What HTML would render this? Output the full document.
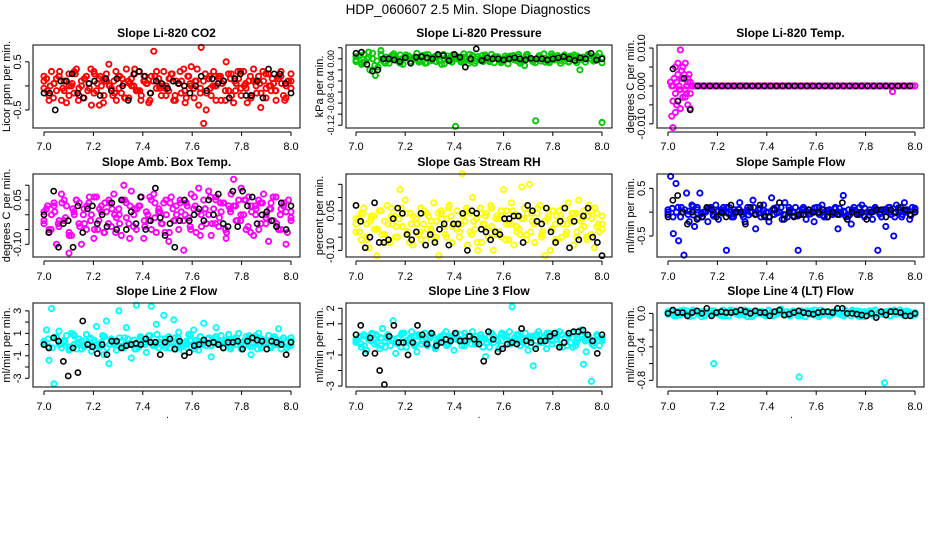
<!DOCTYPE html>
<html>
<head>
<meta charset="utf-8">
<style>
  html,body{margin:0;padding:0;background:#fff;}
  body{width:936px;height:540px;overflow:hidden;}
  svg text{font-family:"Liberation Sans",Arial,sans-serif;}
</style>
</head>
<body>
<svg id="chart" width="936" height="540" viewBox="0 0 936 540" xmlns="http://www.w3.org/2000/svg">
  <rect x="0" y="0" width="936" height="540" fill="#fff"/>
  <text x="468" y="14" text-anchor="middle" font-size="13.5">HDP_060607  2.5 Min. Slope Diagnostics</text>
</svg>
<script>
// ---------- data (hour of day 7.0 .. 8.0, evenly spaced samples) ----------
const xTicks = [7.0, 7.2, 7.4, 7.6, 7.8, 8.0];
const xTickLabels = ["7.0", "7.2", "7.4", "7.6", "7.8", "8.0"];

const co2Main = [-0.05,0.15,-0.2,0.3,0.05,-0.1,0.2,-0.3,0.1,-0.35,0.25,0.0,-0.15,0.35,-0.05,0.1,-0.25,0.2,0.05,-0.4,0.3,-0.1,0.15,0.0,-0.2,0.25,0.45,-0.05,0.1,-0.3,0.2,-0.15,0.05,0.35,-0.25,0.15,0.0,-0.1,0.3,-0.2,0.1,0.05,-0.35,0.2,0.72,-0.05,0.15,-0.2,0.3,0.0,-0.1,0.25,-0.3,0.1,0.05,-0.15,0.35,-0.25,0.2,0.4,-0.05,0.1,-0.4,0.8,-0.78,-0.5,0.15,-0.2,0.3,0.0,0.2,-0.3,0.1,0.5,-0.1,0.25,-0.35,0.05,0.15,-0.2,0.3,-0.05,0.1,-0.25,0.35,0.0,0.2,-0.15,0.1,-0.05,0.25,-0.1,0.05,-0.3,0.15,0.3,-0.2,0.0,0.1,-0.05];
const co2Alt = [0.1,-0.3,0.05,0.2,-0.1,0.0,0.3,-0.2,0.15,-0.05,0.25,-0.4,0.1,0.0,-0.15,0.2,-0.25,0.05,0.35,-0.1,0.1,-0.3,0.2,0.0,-0.05,0.15,-0.2,0.3,-0.35,0.05,0.1,-0.15,0.25,-0.05,0.0,0.2,-0.3,0.15,-0.1,0.3,0.05,-0.2,0.1,-0.45,0.25,0.0,-0.1,0.2,-0.25,0.1];
const co2Extra = [0.2,-0.1,0.0,-0.25,0.15,0.3,-0.05,0.1,-0.2,0.05,0.25,-0.3,0.0,0.15,-0.1,0.35,-0.15,0.05,0.2,-0.35,0.1,0.0,-0.2,0.3,-0.05,0.15,-0.25,0.1,0.0,0.25,-0.1,-0.3,0.2,0.05,-0.15,0.1,0.3,-0.05,0.0,-0.2,0.15,0.25,-0.3,0.05,0.1,-0.1,0.2,0.0,-0.25,0.35,-0.05,0.1,-0.15,0.2,0.0,-0.3,0.15,0.05,-0.1,0.25,-0.2,0.1,0.3,-0.05,0.0,-0.35,0.2,0.1,-0.15,0.05,0.3,-0.25,0.0,0.15,-0.1,0.2,0.05,-0.3,0.1,0.25];
const co2Black = [-0.15,-0.15,-0.5,0.1,0.1,0.25,-0.15,-0.25,0.05,0.1,-0.2,0.15,-0.1,0.15,0.0,-0.3,0.25,0.3,0.2,-0.15,0.1,0.05,-0.05,0.1,0.05,0.0,-0.15,0.0,0.2,-0.1,0.15,0.05,0.1,-0.25,0.15,0.25,-0.2,-0.2,0.1,-0.25,0.35,0.25,0.25,0.05,-0.15];

const presMain = [-0.005,0.005,-0.01,0.008,0.0,-0.02,0.01,-0.03,-0.015,0.015,-0.005,0.003,-0.008,0.006,0.0,-0.004,0.007,-0.01,0.002,0.005,-0.006,0.0,0.01,-0.003,0.004,-0.008,0.008,-0.002,0.003,-0.005,0.006,-0.01,0.0,0.005,-0.004,0.007,-0.122,0.002,-0.006,0.009,0.0,-0.003,0.005,-0.008,0.004,0.0,-0.005,0.006,-0.002,0.008,-0.007,0.003,0.0,-0.004,0.005,-0.009,0.002,0.006,-0.003,0.004,-0.006,-0.012,0.008,0.0,-0.005,-0.112,0.003,-0.004,0.009,0.0,-0.007,0.005,-0.002,0.006,-0.008,0.003,0.0,-0.005,0.004,0.007,-0.003,-0.02,0.002,-0.006,0.008,0.0,-0.004,0.005,0.01,-0.115];
const presAlt = [0.004,-0.007,0.012,-0.012,0.006,-0.002,0.009,-0.008,0.003,0.0,-0.006,0.007,-0.003,0.005,-0.009,0.002,0.0,-0.005,0.008,-0.004,0.006,-0.001,0.004,-0.007,0.003,0.0,-0.008,0.007,-0.002,0.005,-0.006,0.009,0.0,-0.004,0.005,-0.007,0.003,0.006,-0.003,0.002];
const presExtra = [-0.002,0.006,-0.006,0.003,0.0,-0.004,0.008,-0.008,0.002,0.005,-0.003,0.0,0.007,-0.005,0.003,-0.001,0.006,-0.007,0.001,0.004,-0.004,0.008,0.0,-0.006,0.005,-0.002,0.003,-0.008,0.006,0.0,-0.003,0.007,-0.005,0.002,0.004,-0.006,0.0,0.005,-0.002,0.008,-0.004,0.003,0.0,-0.007,0.006,0.001,-0.005,0.004,0.0,-0.003,0.007,-0.006,0.002,0.005,-0.001,0.0,0.006,-0.004,0.003,-0.007];
const presBlack = [0.01,0.012,-0.01,-0.022,-0.02,0.0,0.0,-0.002,-0.005,0.002,-0.008,0.003,0.004,0.002,0.0,0.008,0.006,-0.003,0.008,0.003,-0.015,0.0,0.018,-0.003,0.002,0.0,0.0,-0.002,0.0,0.002,0.0,-0.002,0.001,0.0,0.0,-0.002,0.0,0.002,0.004,0.0,-0.003,0.002,0.0,0.01,-0.002,0.0];

const tempEarlyX = [7.01,7.015,7.02,7.02,7.025,7.03,7.03,7.035,7.04,7.04,7.045,7.05,7.05,7.055,7.06,7.06,7.065,7.07,7.07,7.075,7.08,7.08,7.085,7.09,7.09,7.095,7.1,7.02,7.03,7.04,7.05,7.06,7.07,7.08,7.09,7.035,7.055,7.075,7.015,7.045];
const tempEarlyY = [0.001,-0.008,0.0,-0.011,0.002,0.005,-0.002,0.001,-0.004,0.006,0.0,0.0095,-0.006,0.004,0.002,-0.003,0.003,-0.001,0.006,0.0,-0.005,0.002,0.003,-0.002,0.001,0.0,0.0,-0.004,-0.007,0.003,-0.001,0.005,-0.003,0.001,-0.006,-0.005,0.002,-0.002,0.0,-0.001];
const tempLate = [0,0,0,0,0,0,0,0,0,0,0,0,0,0,0,0,0,0,0,0,0,0,0,0,0,0,0,0,0,0,0,0,0,0,0,0,0,0,0,0,0,0,0,0,0,0,0,0,0,0,0,0,0,0,0,0,0,0,0,0,0,0,0,0,0,0,0,0,0,0,0,0,0,0,0,0,0,0,0,0,-0.0015,0,0,0,0,0,0,0,0,0];
const tempBlackEarlyX = [7.02,7.04,7.065,7.09];
const tempBlackEarlyY = [0.0045,-0.004,0.002,-0.0063];
const tempBlackLate = [0,0,0,0,0,0,0,0,0,0,0,0,0,0,0,0,0,0,0,0,0,0,0,0,0,0,0,0,0,0,0,0,0,0,0,0];

const ambMain = [-0.03,0.02,-0.06,0.0,0.04,-0.1,-0.04,0.07,-0.02,0.03,-0.13,-0.07,0.01,0.05,-0.03,-0.1,0.02,-0.05,0.04,0.0,-0.08,0.06,-0.02,0.03,-0.06,0.01,0.05,-0.04,0.07,-0.01,0.02,-0.07,0.1,0.04,-0.03,0.08,0.0,-0.05,0.03,0.06,-0.08,0.01,-0.02,0.05,0.07,-0.06,0.02,-0.03,0.04,0.0,-0.09,0.06,-0.02,0.03,-0.05,0.01,-0.12,0.04,-0.01,0.07,0.02,-0.06,0.09,0.0,0.05,-0.03,0.08,-0.07,0.02,0.06,-0.04,0.01,0.04,-0.08,0.03,0.07,0.12,-0.02,0.05,0.09,0.0,-0.05,0.06,0.03,-0.07,0.02,0.05,-0.03,0.07,0.0,-0.09,0.04,-0.02,0.06,-0.05,0.02,0.03,-0.1,0.05,-0.01];
const ambAlt = [0.01,-0.05,0.03,-0.02,0.05,-0.07,0.0,0.04,-0.03,0.06,-0.05,0.02,-0.06,0.04,0.0,-0.03,0.05,-0.08,0.02,0.03,-0.04,0.06,-0.01,0.01,-0.06,0.04,-0.02,0.05,0.0,-0.04,0.03,-0.07,0.02,0.06,-0.03,0.04,-0.05,0.01,0.03,-0.02,0.05,-0.06,0.0,0.04,-0.03,0.02,0.06,-0.05,0.01,-0.02];
const ambExtra = [-0.02,0.03,-0.05,0.01,-0.03,0.04,-0.01,-0.06,0.02,0.05,-0.04,0.0,0.03,-0.02,0.06,-0.05,0.01,0.04,-0.03,0.02,-0.06,0.0,0.05,-0.01,0.03,-0.04,0.02,0.06,-0.02,0.0,-0.05,0.04,0.01,-0.03,0.05,-0.06,0.02,0.0,0.04,-0.02,0.03,-0.05,0.06,0.01,-0.04,0.02,0.0,-0.03,0.05,-0.01,0.04,-0.06,0.02,0.03,-0.02,0.0,0.05,-0.04,0.01,0.03,-0.05,0.04,-0.01,0.02,0.06,-0.03,0.0,0.04,-0.06,0.01];
const ambBlack = [0.0,-0.06,0.08,-0.11,-0.03,-0.02,-0.11,0.03,-0.06,0.02,0.03,-0.03,0.0,-0.04,0.04,-0.05,0.05,-0.05,0.01,-0.03,0.06,-0.05,-0.02,0.09,-0.01,-0.07,-0.03,-0.11,-0.02,0.05,-0.02,0.0,0.02,-0.02,0.05,0.0,0.07,-0.03,-0.04,0.08,-0.04,0.08,0.03,0.06,-0.03,0.0,0.01,-0.02,-0.04,0.04,-0.05,0.03];

const rhMain = [-0.03,0.02,-0.06,0.06,0.0,-0.09,0.03,-0.02,-0.12,0.05,-0.04,0.01,0.07,-0.07,0.0,0.03,-0.05,0.13,-0.01,0.09,-0.03,0.04,-0.08,0.02,-0.04,0.06,0.0,-0.06,0.03,-0.02,0.08,-0.05,-0.12,0.04,-0.01,0.02,0.07,-0.07,0.0,0.05,-0.03,0.19,0.01,-0.08,0.04,0.1,-0.02,-0.1,0.06,0.0,0.03,-0.05,0.07,-0.1,0.02,-0.03,0.05,0.13,0.0,-0.06,0.08,-0.08,0.03,-0.02,0.14,0.06,-0.04,0.15,0.01,-0.07,0.04,0.07,-0.03,-0.12,0.02,-0.1,0.05,0.0,-0.06,0.03,0.06,-0.04,0.08,0.01,-0.08,0.04,0.09,-0.02,0.05,-0.05,0.07,0.02,-0.09,0.04,-0.03,0.0];
const rhAlt = [0.0,0.04,-0.05,0.02,-0.02,0.05,-0.07,0.03,-0.01,0.06,-0.04,0.0,0.02,-0.06,0.04,-0.03,0.01,0.05,-0.05,0.03,-0.02,0.0,0.06,-0.04,0.02,-0.07,0.04,-0.01,0.03,-0.05,0.05,0.0,-0.03,0.02,-0.06,0.04,0.01,-0.04,0.06,-0.02,0.03,-0.05,0.0,0.04,-0.03,0.02,-0.06,0.05,-0.01,0.03];
const rhExtra = [0.02,-0.03,0.04,-0.06,0.01,0.03,-0.02,0.05,-0.04,0.0,0.06,-0.05,0.02,-0.01,0.04,-0.07,0.03,0.0,-0.03,0.05,-0.02,0.01,-0.06,0.04,0.02,-0.04,0.06,-0.01,0.0,-0.05,0.03,0.05,-0.03,0.01,-0.07,0.04,0.0,-0.02,0.06,-0.04,0.02,0.03,-0.06,0.0,0.05,-0.01,-0.04,0.02,0.04,-0.03,0.0,0.06,-0.05,0.01,0.03,-0.02,-0.06,0.05,0.0,-0.03,0.02,0.04,-0.05,0.01,-0.01,0.03,-0.04,0.06,0.0,-0.02];
const rhBlack = [0.07,0.01,-0.09,-0.05,0.08,-0.07,-0.07,-0.06,0.02,0.06,0.04,-0.04,-0.06,-0.03,0.04,-0.08,-0.04,-0.07,-0.02,0.0,-0.08,0.0,0.0,0.04,-0.1,0.05,0.04,-0.02,-0.03,-0.06,-0.03,-0.04,0.02,0.02,0.03,0.03,-0.07,0.07,0.05,0.01,0.0,0.06,-0.03,-0.07,0.01,0.06,-0.09,0.01,-0.06,0.03,0.06,-0.05,-0.07,-0.12];

const sampleMain = [0.0,0.75,-0.45,0.6,-0.6,0.1,-0.9,0.4,-0.2,0.15,-0.3,0.05,0.4,-0.1,0.0,-0.2,0.1,-0.05,0.15,-0.15,0.05,0.0,-0.8,0.1,-0.1,0.05,0.0,0.2,-0.05,-0.2,0.1,0.0,0.25,-0.35,0.05,-0.1,0.15,0.0,-0.2,0.3,-0.05,0.1,0.0,-0.15,0.2,-0.1,0.05,0.0,0.1,-0.8,-0.05,0.1,-0.15,0.05,0.0,-0.2,0.1,-0.05,0.15,0.0,-0.1,0.05,-0.05,0.1,-0.35,0.0,0.35,-0.1,0.05,-0.25,0.1,0.0,-0.05,0.15,-0.1,0.0,0.05,-0.15,0.1,-0.8,0.0,0.05,-0.3,0.1,-0.05,-0.5,0.15,0.0,-0.1,0.2,0.05,-0.15,0.1,0.0];
const sampleAlt = [0.05,-0.1,0.1,0.0,-0.05,0.12,-0.12,0.0,0.08,-0.08,0.03,0.1,-0.03,-0.1,0.06,0.0,-0.06,0.1,-0.02,0.04,-0.1,0.08,0.0,-0.05,0.1,-0.08,0.02,0.06,-0.04,0.0,0.1,-0.1,0.05,-0.02,0.08,0.0,-0.06,0.04,0.1,-0.08,0.0,0.06,-0.04,0.02,0.1,-0.1,0.05,0.0,-0.05,0.08];
const sampleExtra = [-0.05,0.08,0.0,-0.1,0.05,0.02,-0.06,0.1,-0.03,0.0,0.07,-0.08,0.03,-0.02,0.1,-0.05,0.0,0.06,-0.1,0.04,0.01,-0.04,0.08,-0.07,0.0,0.05,-0.02,0.1,-0.06,0.03,0.0,-0.08,0.06,0.02,-0.04,0.09,-0.01,-0.07,0.04,0.0,0.07,-0.05,0.02,-0.09,0.05,0.0,-0.03,0.08,-0.06,0.01,0.04,-0.1,0.06,0.0,-0.02,0.09,-0.05,0.03,-0.07,0.05];
const sampleBlack = [-0.1,0.25,0.35,0.0,-0.25,0.0,-0.15,-0.1,0.1,0.05,-0.1,0.0,-0.1,0.15,0.0,0.0,-0.25,0.1,-0.05,0.15,-0.1,-0.1,0.05,0.2,-0.15,0.0,-0.1,-0.05,-0.05,0.05,0.0,0.0,0.05,-0.1,0.0,-0.05,0.2,-0.15,0.0,-0.05,0.0,-0.15,0.0,0.05,0.05,-0.1,0.05,0.0,0.1,0.05,-0.05,0.0];

const line2Main = [0.0,1.3,-1.4,3.2,-3.5,0.6,1.2,-0.3,0.2,0.8,-0.5,1.0,0.0,-0.4,0.5,0.3,-0.2,0.9,0.1,-0.6,0.4,1.6,-0.1,0.2,-0.9,2.1,-1.7,0.5,0.0,-0.5,3.0,0.3,-0.3,1.5,0.0,-1.2,0.4,3.5,-0.2,0.6,0.1,-0.7,0.8,3.4,0.0,1.8,-0.3,0.5,2.6,-0.1,0.7,0.2,2.2,-0.4,1.1,0.0,-0.6,0.3,0.9,-0.2,1.3,0.4,-0.5,0.1,1.9,-0.1,0.6,-1.1,0.2,1.5,0.0,0.8,-0.3,0.4,0.9,-0.2,0.5,0.0,1.0,-0.4,0.3,0.7,-0.1,-0.9,0.6,0.2,1.0,-0.3,0.4,0.1,0.8,-0.2,0.5,0.0,1.4,-0.4,0.6,0.2,-0.1,0.3];
const line2Alt = [0.3,-0.2,0.6,0.0,0.4,-0.4,0.8,0.1,-0.1,0.5,0.2,-0.3,0.7,0.0,0.3,-0.2,0.6,0.1,-0.4,0.4,0.0,0.8,-0.1,0.2,0.5,-0.3,0.6,0.1,0.0,0.4,-0.2,0.7,0.2,-0.1,0.5,0.0,0.3,-0.4,0.6,0.1,0.4,-0.2,0.8,0.0,0.3,-0.3,0.5,0.1,0.2,-0.1];
const line2Extra = [0.1,0.5,-0.3,0.7,0.0,0.3,-0.2,0.9,0.2,-0.4,0.4,0.6,-0.1,0.0,0.8,-0.3,0.3,0.1,0.6,-0.2,0.5,0.0,-0.4,0.7,0.2,0.4,-0.1,0.9,0.0,-0.3,0.5,0.2,0.6,-0.2,0.1,0.8,-0.4,0.3,0.0,0.5,-0.1,0.7,0.2,-0.3,0.4,0.0,0.6,-0.2,0.3,0.8,0.1,-0.4,0.5,0.2,-0.1,0.7,0.0,0.4,-0.3,0.6];
const line2Black = [0.0,-0.3,0.6,0.3,-1.5,-2.8,-0.3,-2.5,2.1,0.0,-0.2,-0.8,0.0,-0.9,0.3,0.3,-0.3,-0.1,0.0,0.1,0.0,0.5,0.2,0.2,-0.9,0.2,0.5,-0.4,0.3,-1.0,-0.7,-0.1,0.0,0.4,0.1,0.2,0.0,-0.3,0.2,0.2,0.3,-0.4,0.3,0.6,0.4,0.3,-0.4,0.3,0.2,0.0,-0.9,0.2];

const line3Main = [-0.2,0.1,-0.5,0.3,-0.7,0.0,0.4,-0.3,0.2,-0.6,0.7,-0.1,0.3,-0.4,1.2,-0.9,0.1,-0.5,0.4,-0.2,0.0,0.5,-0.3,-0.8,0.2,-0.1,0.4,-0.4,0.1,0.3,-0.6,0.0,0.2,-0.2,0.5,-0.3,0.1,-0.7,0.3,0.0,-0.4,0.4,-0.1,0.2,0.5,-0.3,0.0,0.3,-0.5,-1.1,0.1,0.4,-0.2,0.0,-0.6,0.3,0.2,-0.3,0.5,2.1,-0.1,0.3,-0.4,0.1,0.4,-0.7,0.0,-1.7,0.3,0.5,-0.2,0.1,-0.6,0.4,0.0,0.2,-0.3,0.5,-0.5,0.1,0.3,-0.2,0.4,-0.4,0.0,0.6,-1.6,-0.8,0.2,-2.7,-0.1,0.3,-0.4,0.0];
const line3Alt = [0.0,-0.3,0.2,-0.1,0.3,-0.4,0.1,0.0,-0.2,0.3,-0.5,0.1,0.2,-0.3,0.0,0.4,-0.2,0.1,-0.4,0.2,0.0,0.3,-0.1,-0.3,0.2,0.1,-0.2,0.4,0.0,-0.4,0.2,-0.1,0.3,0.0,-0.3,0.1,0.2,-0.2,0.4,-0.1,0.0,0.3,-0.4,0.1,-0.2,0.2,0.0,-0.3,0.3,-0.1];
const line3Extra = [-0.1,0.2,-0.4,0.0,0.3,-0.2,0.1,-0.5,0.2,0.0,-0.3,0.4,-0.1,0.1,-0.4,0.3,0.0,-0.2,0.2,-0.5,0.1,0.3,-0.3,0.0,0.4,-0.1,-0.4,0.2,0.1,-0.2,0.3,0.0,-0.5,0.2,-0.1,0.4,0.0,-0.3,0.1,0.3,-0.2,0.0,0.2,-0.4,0.3,-0.1,0.1,-0.3,0.4,0.0,-0.2,0.2,-0.5,0.1,0.3,-0.1,0.0,-0.4,0.2,0.1];
const line3Black = [0.3,0.9,-0.9,0.1,-0.9,-2.0,-2.9,0.2,0.9,-0.2,-0.2,-1.0,-0.2,0.9,0.3,-0.3,0.4,-0.4,-0.2,0.0,-0.1,0.4,-0.1,-0.1,0.2,0.0,-0.3,-1.4,0.5,0.0,-0.8,-0.6,-0.3,-0.2,-0.3,0.7,-0.1,-0.2,-0.6,-0.1,-0.1,0.2,0.4,-0.5,-0.2,0.4,0.5,0.5,0.6,0.3,-0.1,-0.9,0.3];

const line4Main = [0.0,0.03,-0.03,0.02,-0.02,0.04,0.0,-0.04,0.01,0.03,-0.01,0.02,-0.03,0.0,0.03,-0.6,0.01,-0.02,0.04,0.0,-0.03,0.02,0.03,-0.01,0.0,0.04,-0.04,0.01,-0.02,0.03,0.0,0.02,-0.03,0.04,0.01,-0.02,0.0,0.05,-0.01,0.02,-0.03,0.03,0.0,-0.76,0.02,-0.04,0.01,0.03,-0.02,0.0,0.04,-0.01,0.02,-0.03,0.0,0.03,0.01,-0.02,0.04,0.0,-0.03,0.02,0.03,-0.04,0.0,0.01,0.03,-0.02,0.04,0.0,-0.01,-0.83,0.02,-0.03,0.03,0.0,0.04,-0.02,0.01,0.02,-0.03,0.0];
const line4Alt = [0.02,-0.02,0.0,0.03,-0.03,0.01,0.02,-0.01,0.0,-0.03,0.03,0.01,-0.02,0.02,0.0,-0.01,0.03,-0.02,0.01,0.0,0.02,-0.03,0.03,0.0,-0.02,0.01,0.02,-0.01,0.0,0.03,-0.03,0.02,0.01,-0.02,0.0,0.03,-0.01,0.02,0.0,-0.02];
const line4Extra = [-0.01,0.02,-0.03,0.03,0.0,-0.02,0.04,0.01,-0.04,0.02,0.0,0.03,-0.01,-0.03,0.02,0.04,0.0,-0.02,0.01,0.03,-0.04,0.0,0.02,-0.01,0.03,-0.03,0.01,0.04,-0.02,0.0,0.02,-0.03,0.03,0.01,-0.01,0.04,-0.04,0.0,0.02,-0.02,0.03,0.0,-0.03,0.01,0.04,-0.01,0.02,-0.04,0.0,0.03,-0.02,0.01,0.02,-0.03,0.04,0.0,-0.01,0.03,-0.02,0.01];
const line4Black = [0.0,0.04,0.01,0.01,-0.03,0.01,0.03,0.0,0.06,-0.03,0.01,0.02,0.01,0.01,0.02,0.04,0.02,0.0,0.03,0.01,0.01,-0.03,0.02,0.04,-0.02,-0.01,0.01,0.03,0.01,0.0,-0.01,0.01,0.02,0.02,0.01,0.06,0.06,0.0,0.0,-0.01,-0.02,-0.03,0.0,-0.05,0.02,-0.02,0.02,0.02,0.01,-0.03,-0.03,0.0];

// ---------- panels (layout + references to data arrays) ----------
const cols = [{l:33,r:300,a:44,b:291},{l:346,r:612,a:356,b:602},{l:657,r:924,a:668,b:915}];
const rows = [{t:45,bt:128,tt:37,lab:146},{t:174,bt:257,tt:166,lab:276},{t:303,bt:387,tt:295,lab:406}];

const panels = [
 {name:"co2",title:"Slope Li-820 CO2",ylab:"Licor ppm per min.",col:0,row:0,color:"#ff0000",ymin:-0.875,ymax:0.85,ticks:[-0.5,0,0.5],labels:{"0.5":"0.5","-0.5":"-0.5"},
  series:[{v:co2Main},{v:co2Alt},{v:co2Extra}],black:[{v:co2Black}]},
 {name:"pressure",title:"Slope Li-820 Pressure",ylab:"kPa per min.",col:1,row:0,color:"#00cc00",ymin:-0.125,ymax:0.025,ticks:[0.02,0,-0.02,-0.04,-0.06,-0.08,-0.1,-0.12],labels:{"0":"0.00","-0.04":"-0.04","-0.08":"-0.08","-0.12":"-0.12"},labelSize:9,
  series:[{v:presMain},{v:presAlt},{v:presExtra}],black:[{v:presBlack}]},
 {name:"li820-temp",title:"Slope Li-820 Temp.",ylab:"degrees C per min.",col:2,row:0,color:"#ff00ff",ymin:-0.0111,ymax:0.0108,ticks:[0.01,0.005,0,-0.005,-0.01],labels:{"0.01":"0.010","0":"0.000","-0.01":"-0.010"},
  series:[{x:tempEarlyX,v:tempEarlyY},{x0:7.1,x1:8.0,v:tempLate}],black:[{x:tempBlackEarlyX,v:tempBlackEarlyY},{x0:7.12,x1:7.98,v:tempBlackLate}]},
 {name:"amb-box-temp",title:"Slope Amb. Box Temp.",ylab:"degrees C per min.",col:0,row:1,color:"#ff00ff",ymin:-0.143,ymax:0.138,ticks:[0.1,0.05,0,-0.05,-0.1],labels:{"0.05":"0.05","-0.1":"-0.10"},
  series:[{v:ambMain},{v:ambAlt},{v:ambExtra}],black:[{v:ambBlack}]},
 {name:"gas-stream-rh",title:"Slope Gas Stream RH",ylab:"percent per min.",col:1,row:1,color:"#ffff00",ymin:-0.125,ymax:0.189,ticks:[0.15,0.1,0.05,0,-0.05,-0.1],labels:{"0.05":"0.05","-0.1":"-0.10"},
  series:[{v:rhMain},{v:rhAlt},{v:rhExtra}],black:[{v:rhBlack}]},
 {name:"sample-flow",title:"Slope Sample Flow",ylab:"ml/min per min.",col:2,row:1,color:"#0000ff",ymin:-0.94,ymax:0.8,ticks:[0.5,0,-0.5],labels:{"0.5":"0.5","-0.5":"-0.5"},
  series:[{v:sampleMain},{v:sampleAlt},{v:sampleExtra}],black:[{v:sampleBlack}]},
 {name:"line2-flow",title:"Slope Line 2 Flow",ylab:"ml/min per min.",col:0,row:2,color:"#00ffff",ymin:-3.78,ymax:3.7,ticks:[3,2,1,0,-1,-2,-3],labels:{"3":"3","1":"1","-1":"-1","-3":"-3"},
  series:[{v:line2Main},{v:line2Alt},{v:line2Extra}],black:[{v:line2Black}]},
 {name:"line3-flow",title:"Slope Line 3 Flow",ylab:"ml/min per min.",col:1,row:2,color:"#00ffff",ymin:-3.06,ymax:2.34,ticks:[2,1,0,-1,-2,-3],labels:{"2":"2","1":"1","-1":"-1","-3":"-3"},
  series:[{v:line3Main},{v:line3Alt},{v:line3Extra}],black:[{v:line3Black}]},
 {name:"line4-flow",title:"Slope Line 4 (LT) Flow",ylab:"ml/min per min.",col:2,row:2,color:"#00ffff",ymin:-0.88,ymax:0.124,ticks:[0,-0.2,-0.4,-0.6,-0.8],labels:{"0":"0.0","-0.4":"-0.4","-0.8":"-0.8"},
  series:[{v:line4Main},{v:line4Alt},{v:line4Extra}],black:[{v:line4Black}]}
];

const NS = "http://www.w3.org/2000/svg";
const svg = document.getElementById("chart");
function mk(tag, attrs, parent){
  const e = document.createElementNS(NS, tag);
  for (const k in attrs) e.setAttribute(k, attrs[k]);
  (parent||svg).appendChild(e);
  return e;
}

panels.forEach(p => {
  const c = cols[p.col], r = rows[p.row];
  const xs = v => c.a + (v - 7) * (c.b - c.a);
  const ys = v => r.bt - (v - p.ymin) / (p.ymax - p.ymin) * (r.bt - r.t);
  const g = mk("g", {});
  
  

  const title = mk("text", {x:(c.l+c.r)/2, y:r.tt, "text-anchor":"middle", "font-size":"12", "font-weight":"bold"}, g);
  title.textContent = p.title;
  
  

  const plot = mk("g", {}, g);
  
  
  function drawSeries(s, color, sw){
    const n = s.v.length;
    s.v.forEach((val, i) => {
      let xv;
      if (s.x) xv = s.x[i];
      else { const x0 = s.x0 ?? 7.0, x1 = s.x1 ?? 8.0; xv = x0 + (x1 - x0) * (n > 1 ? i/(n-1) : 0); }
      const pt = mk("circle", {cx:xs(xv), cy:ys(val), r:2.6, fill:"none", stroke:color, "stroke-width":sw}, plot);
      
      
    });
  }
  p.series.forEach(s => drawSeries(s, p.color, 1.9));
  p.black.forEach(s => drawSeries(s, "#000", 1.6));

  const box = mk("rect", {x:c.l, y:r.t, width:c.r-c.l, height:r.bt-r.t, fill:"none", stroke:"#000", "stroke-width":1}, g);
  
  

  const xa = mk("g", {}, g);
  
  
  mk("line", {x1:xs(xTicks[0]), x2:xs(xTicks[xTicks.length-1]), y1:r.bt+4, y2:r.bt+4, stroke:"#000"}, xa);
  xTicks.forEach((t, i) => {
    mk("line", {x1:xs(t), x2:xs(t), y1:r.bt+4, y2:r.bt+8, stroke:"#000"}, xa);
    const tl = mk("text", {x:xs(t), y:r.lab+4, "text-anchor":"middle", "font-size":"11"}, xa);
    tl.textContent = xTickLabels[i];
    
    
  });
  const dot = mk("text", {x:(c.a+c.b)/2, y:r.lab+12, "text-anchor":"middle", "font-size":"10"}, xa);
  dot.textContent = ".";
  
  

  const ya = mk("g", {}, g);
  
  
  const tmin = Math.min(...p.ticks), tmax = Math.max(...p.ticks);
  mk("line", {x1:c.l-4, x2:c.l-4, y1:ys(tmin), y2:ys(tmax), stroke:"#000"}, ya);
  const ls = p.labelSize || 11;
  p.ticks.forEach(t => {
    mk("line", {x1:c.l-8, x2:c.l-4, y1:ys(t), y2:ys(t), stroke:"#000"}, ya);
    const key = String(t);
    if (p.labels[key] !== undefined) {
      const tx = c.l - 12, ty = ys(t);
      const tl = mk("text", {x:tx, y:ty, "text-anchor":"middle", "font-size":ls, transform:`rotate(-90 ${tx} ${ty})`}, ya);
      tl.textContent = p.labels[key];
      
      
    }
  });
  const yx = c.l - 23, yy = (r.t + r.bt)/2;
  const yt = mk("text", {x:yx, y:yy, "text-anchor":"middle", "font-size":"11", transform:`rotate(-90 ${yx} ${yy})`}, ya);
  yt.textContent = p.ylab;
  
  
});
</script>
</body>
</html>
